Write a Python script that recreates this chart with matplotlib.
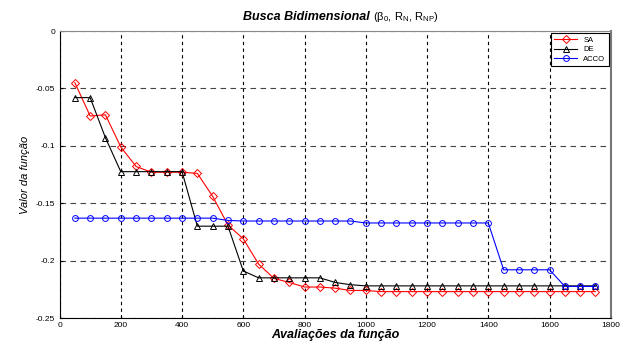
import matplotlib
matplotlib.use("Agg")
import matplotlib.pyplot as plt

plt.rcParams['font.family'] = ['Liberation Sans', 'DejaVu Sans']
plt.rcParams['mathtext.fontset'] = 'custom'
plt.rcParams['mathtext.rm'] = 'Liberation Sans'
plt.rcParams['mathtext.it'] = 'Liberation Sans:italic'

# avaliacoes da funcao
evals = [50, 100, 150, 200, 250, 300, 350, 400, 450, 500,
         550, 600, 650, 700, 750, 800, 850, 900, 950, 1000,
         1050, 1100, 1150, 1200, 1250, 1300, 1350, 1400, 1450, 1500,
         1550, 1600, 1650, 1700, 1750]

sa = [-0.045, -0.074, -0.073, -0.101, -0.118, -0.123, -0.123, -0.123, -0.124, -0.144,
      -0.169, -0.181, -0.203, -0.2155, -0.219, -0.223, -0.223, -0.224, -0.226, -0.226,
      -0.227, -0.227, -0.227, -0.227, -0.227, -0.227, -0.227, -0.227, -0.227, -0.227,
      -0.227, -0.227, -0.227, -0.227, -0.227]

de = [-0.058, -0.058, -0.093, -0.1225, -0.1225, -0.1225, -0.1225, -0.1225, -0.170, -0.170,
      -0.170, -0.209, -0.215, -0.215, -0.215, -0.215, -0.215, -0.219, -0.221, -0.222,
      -0.222, -0.222, -0.222, -0.222, -0.222, -0.222, -0.222, -0.222, -0.222, -0.222,
      -0.222, -0.222, -0.222, -0.222, -0.222]

acco = [-0.163, -0.163, -0.163, -0.163, -0.163, -0.163, -0.163, -0.163, -0.163, -0.163,
        -0.165, -0.1655, -0.1655, -0.1655, -0.1655, -0.1655, -0.1655, -0.1655, -0.1655, -0.1672,
        -0.1672, -0.1672, -0.1672, -0.1672, -0.1672, -0.1672, -0.1672, -0.1672, -0.208, -0.208,
        -0.208, -0.208, -0.2225, -0.2225, -0.2225]

xticks = [0, 200, 400, 600, 800, 1000, 1200, 1400, 1600, 1800]
yticks = [0, -0.05, -0.1, -0.15, -0.2, -0.25]
ytick_labels = ["0", "-0.05", "-0.1", "-0.15", "-0.2", "-0.25"]

fig = plt.figure(figsize=(6.22, 3.41), dpi=100)
ax = fig.add_axes([0.0957, 0.0674, 0.8863, 0.8416])

ax.plot(evals, sa, color='red', lw=0.8, marker='D', ms=3.8, mfc='none', mew=0.7, label='SA')
ax.plot(evals, de, color='black', lw=0.8, marker='^', ms=5, mfc='none', mew=0.7, label='DE')
ax.plot(evals, acco, color='blue', lw=0.8, marker='o', ms=4.2, mfc='none', mew=0.7, label='ACCO')

ax.set_xlim(0, 1800)
ax.set_ylim(-0.25, 0)
ax.set_xticks(xticks)
ax.set_yticks(yticks)
ax.set_yticklabels(ytick_labels)
ax.tick_params(labelsize=6, direction='in', length=2, pad=3)

ax.xaxis.grid(True, color='black', ls=(0, (3, 3)), lw=0.8)
ax.yaxis.grid(True, color='#444444', ls=(0, (5, 4)), lw=0.8)

ax.spines['left'].set_color('black')
ax.spines['bottom'].set_color('black')
ax.spines['top'].set_color('#888888')
ax.spines['right'].set_color('#777777')
ax.spines['right'].set_linewidth(1.5)

ax.text(0.563, 1.05, 'Busca Bidimensional', transform=ax.transAxes, ha='right', va='center',
        fontsize=9, fontstyle='italic', fontweight='bold')
ax.text(0.568, 1.05, r'($\mathregular{\beta_0}$, R$_\mathregular{N}$, R$_\mathregular{NP}$)',
        transform=ax.transAxes, ha='left', va='center', fontsize=8)

ax.set_ylabel('Valor da função', fontsize=8, fontstyle='italic', labelpad=4)
ax.set_xlabel('Avaliações da função', fontsize=9, fontstyle='italic', fontweight='bold', labelpad=0)

leg = ax.legend(loc='upper right', fontsize=5.5, frameon=True, fancybox=False,
                edgecolor='black', framealpha=1, handlelength=3, borderaxespad=0.3,
                labelspacing=0.3)
leg.get_frame().set_linewidth(0.8)

fig.savefig('out.png', dpi=100)
